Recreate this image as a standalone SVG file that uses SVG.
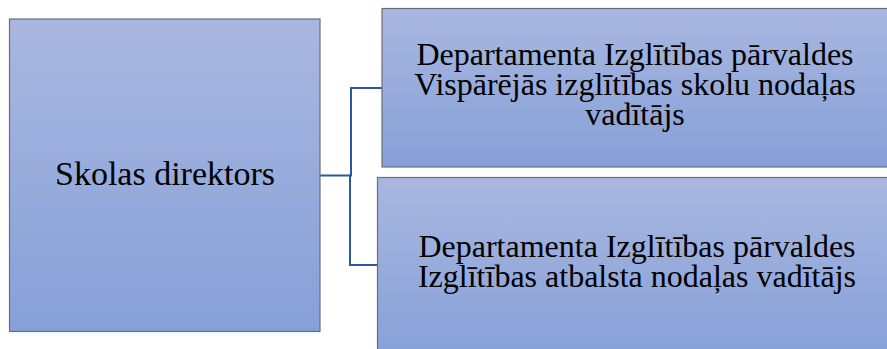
<svg xmlns="http://www.w3.org/2000/svg" width="887" height="349" viewBox="0 0 887 349">
<defs>
<linearGradient id="g" x1="0" y1="0" x2="0" y2="1">
<stop offset="0" stop-color="#A9B7E0"/>
<stop offset="1" stop-color="#86A0D8"/>
</linearGradient>
<style>
.box{fill:url(#g);stroke:#6A6E78;stroke-width:1.2}
.t{font-family:"Liberation Serif","Times New Roman",serif;fill:#000;text-anchor:middle}
.c{fill:none;stroke:#2F56A3;stroke-width:2}
</style>
</defs>
<g id="connectors">
<polyline class="c" points="320,175.5 351,175.5 351,88 382,88"/>
<polyline class="c" points="351,175.5 350,175.5 350,265 378,265"/>
</g>
<g id="node-director">
<rect class="box" x="9.5" y="19" width="310.5" height="312.5"/>
<text class="t" x="165" y="185" font-size="34">Skolas direktors</text>
</g>
<g id="node-top">
<rect class="box" x="382" y="8.5" width="508" height="158.5"/>
<text class="t" font-size="32"><tspan x="635" y="65">Departamenta Izglītības pārvaldes</tspan><tspan x="635" y="95">Vispārējās izglītības skolu nodaļas</tspan><tspan x="635" y="124.5">vadītājs</tspan></text>
</g>
<g id="node-bottom">
<rect class="box" x="377.5" y="177.5" width="520" height="180"/>
<text class="t" font-size="32"><tspan x="637" y="257">Departamenta Izglītības pārvaldes</tspan><tspan x="637" y="287">Izglītības atbalsta nodaļas vadītājs</tspan></text>
</g>
</svg>
